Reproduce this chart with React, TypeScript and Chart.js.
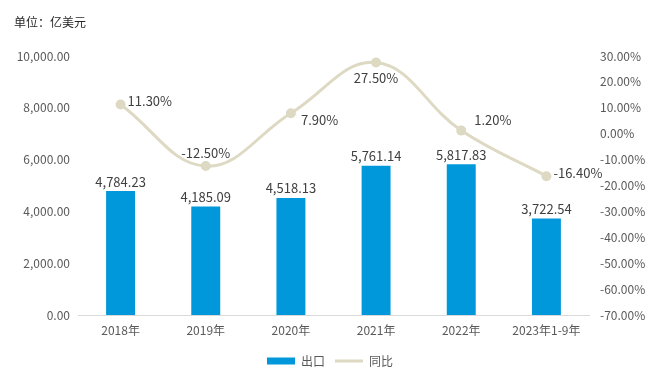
import React, { useEffect, useRef } from 'react';
import { Chart, registerables } from 'chart.js';

Chart.register(...registerables);

const categories = ['2018年', '2019年', '2020年', '2021年', '2022年', '2023年1-9年'];
const exportValues = [4784.23, 4185.09, 4518.13, 5761.14, 5817.83, 3722.54];
const yoyValues = [11.3, -12.5, 7.9, 27.5, 1.2, -16.4];
const yoyLabelPlacement = ['right', 'above', 'belowRight', 'below', 'aboveRight', 'right'];

const leftMin = 0;
const leftMax = 10000;
const leftStep = 2000;
const rightMin = -70;
const rightMax = 30;
const rightStep = 10;

const FONT = "'Noto Sans CJK SC', 'Noto Sans', sans-serif";
const BAR_COLOR = '#0098DA';
const LINE_COLOR = '#DDD9C3';
const TEXT_COLOR = '#404040';
const AXIS_COLOR = '#595959';

const fmtNum = (v: number) =>
  v.toLocaleString('en-US', { minimumFractionDigits: 2, maximumFractionDigits: 2 });
const fmtPct = (v: number) => v.toFixed(2) + '%';

const valueLabels = {
  id: 'valueLabels',
  afterDatasetsDraw(chart: any) {
    const ctx = chart.ctx;
    ctx.save();
    ctx.font = `13px ${FONT}`;
    ctx.fillStyle = TEXT_COLOR;
    const barMeta = chart.getDatasetMeta(1);
    barMeta.data.forEach((el: any, i: number) => {
      ctx.textAlign = 'center';
      ctx.textBaseline = 'bottom';
      ctx.fillText(fmtNum(exportValues[i]), el.x, el.y - 3);
    });
    const lineMeta = chart.getDatasetMeta(0);
    lineMeta.data.forEach((el: any, i: number) => {
      const t = fmtPct(yoyValues[i]);
      const p = yoyLabelPlacement[i];
      ctx.textBaseline = 'middle';
      if (p === 'right') {
        ctx.textAlign = 'left';
        ctx.fillText(t, el.x + 7, el.y - 3);
      } else if (p === 'above') {
        ctx.textAlign = 'center';
        ctx.fillText(t, el.x, el.y - 13);
      } else if (p === 'below') {
        ctx.textAlign = 'center';
        ctx.fillText(t, el.x, el.y + 16);
      } else if (p === 'belowRight') {
        ctx.textAlign = 'left';
        ctx.fillText(t, el.x + 10, el.y + 7);
      } else if (p === 'aboveRight') {
        ctx.textAlign = 'left';
        ctx.fillText(t, el.x + 13, el.y - 11);
      }
    });
    ctx.restore();
  },
};

export default function App() {
  const ref = useRef<HTMLCanvasElement>(null);

  useEffect(() => {
    if (!ref.current) return;
    const chart = new Chart(ref.current, {
      type: 'bar',
      data: {
        labels: categories,
        datasets: [
          {
            type: 'line',
            label: '同比',
            data: yoyValues,
            yAxisID: 'y1',
            borderColor: LINE_COLOR,
            backgroundColor: LINE_COLOR,
            borderWidth: 3,
            tension: 0.4,
            pointRadius: 3.5,
            pointBackgroundColor: LINE_COLOR,
            pointBorderColor: LINE_COLOR,
            order: 0,
          } as any,
          {
            type: 'bar',
            label: '出口',
            data: exportValues,
            yAxisID: 'y',
            backgroundColor: BAR_COLOR,
            categoryPercentage: 1,
            barPercentage: 0.34,
            order: 1,
          },
        ],
      },
      options: {
        responsive: false,
        animation: false,
        layout: { padding: { top: 56, left: 0, right: 0, bottom: 6 } },
        plugins: {
          tooltip: { enabled: false },
          legend: {
            position: 'bottom',
            reverse: true,
            labels: {
              font: { family: FONT, size: 12 },
              color: AXIS_COLOR,
              usePointStyle: true,
              pointStyleWidth: 28,
              boxHeight: 7,
              padding: 10,
              generateLabels(chart: any) {
                return chart.data.datasets.map((ds: any, i: number) => ({
                  text: ds.label,
                  fillStyle: ds.backgroundColor,
                  strokeStyle: ds.type === 'line' ? ds.borderColor : ds.backgroundColor,
                  lineWidth: ds.type === 'line' ? 3 : 0,
                  pointStyle: ds.type === 'line' ? 'line' : 'rect',
                  fontColor: AXIS_COLOR,
                  hidden: false,
                  datasetIndex: i,
                }));
              },
            },
          },
        },
        scales: {
          x: {
            grid: { display: false, drawTicks: false },
            border: { display: true, color: '#D9D9D9', width: 1 },
            ticks: { font: { family: FONT, size: 12 }, color: AXIS_COLOR, padding: 8, maxRotation: 0 },
            afterFit(scale: any) {
              scale.height = 30;
            },
          },
          y: {
            position: 'left',
            min: leftMin,
            max: leftMax,
            grid: { display: false, drawTicks: false },
            border: { display: false },
            ticks: {
              stepSize: leftStep,
              font: { family: FONT, size: 12 },
              color: AXIS_COLOR,
              padding: 8,
              callback: (v: any) => fmtNum(Number(v)),
            },
            afterFit(scale: any) {
              scale.width = 78;
            },
          },
          y1: {
            position: 'right',
            min: rightMin,
            max: rightMax,
            grid: { display: false, drawTicks: false },
            border: { display: false },
            ticks: {
              stepSize: rightStep,
              font: { family: FONT, size: 12 },
              color: AXIS_COLOR,
              padding: 11,
              callback: (v: any) => fmtPct(Number(v)),
            },
            afterFit(scale: any) {
              scale.width = 71;
            },
          },
        },
      },
      plugins: [valueLabels],
    });
    return () => chart.destroy();
  }, []);

  return (
    <div style={{ position: 'absolute', left: 0, top: 0, width: 660, height: 383, background: '#fff' }}>
      <canvas ref={ref} width={660} height={383} style={{ display: 'block' }} />
      <div
        style={{
          position: 'absolute',
          left: 14,
          top: 13,
          fontFamily: FONT,
          fontSize: 12,
          color: '#262626',
          lineHeight: '18px',
          whiteSpace: 'nowrap',
        }}
      >
        单位：亿美元
      </div>
    </div>
  );
}
